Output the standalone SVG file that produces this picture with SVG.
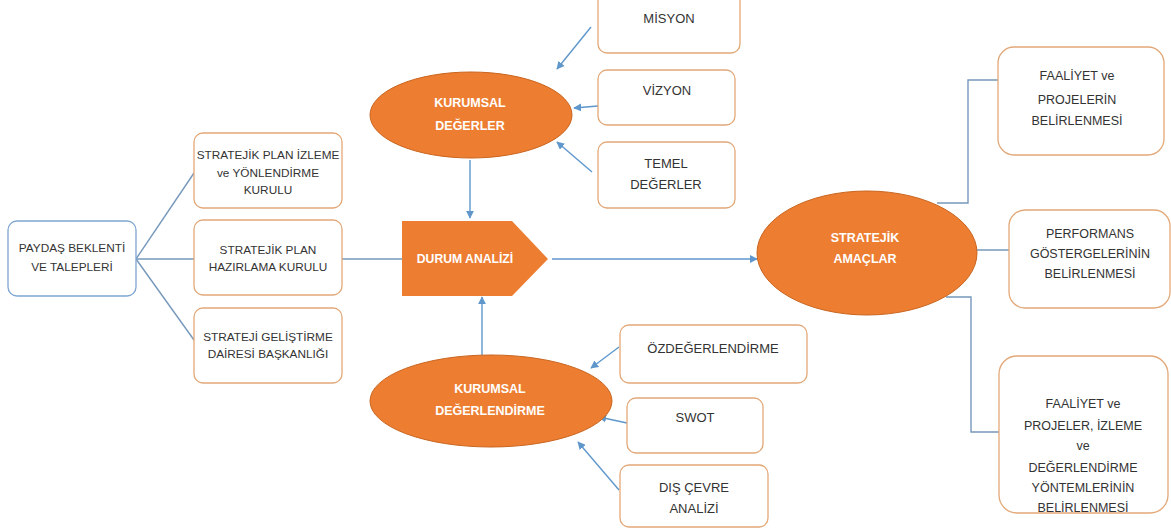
<svg xmlns="http://www.w3.org/2000/svg" width="1171" height="531" viewBox="0 0 1171 531">
  <style>
    .box { fill: #ffffff; stroke: #e2a878; stroke-width: 1.3; }
    .box-blue { fill: #ffffff; stroke: #7ea6cf; stroke-width: 1.3; }
    .oval { fill: #ed7d31; stroke: #c9651f; stroke-width: 1; }
    .shape { fill: #ed7d31; }
    .link { fill: none; stroke: #7698bb; stroke-width: 1.4; }
    .arrow { fill: none; stroke: #5f97cc; stroke-width: 1.4; marker-end: url(#head); }
    .t { font-family: "Liberation Sans", Arial, sans-serif; font-size: 11.8px; fill: #333333; text-anchor: middle; }
    .m { font-size: 13px; }
    .r { font-size: 12.5px; }
    .w { font-family: "Liberation Sans", Arial, sans-serif; font-size: 12.5px; font-weight: bold; fill: #ffffff; text-anchor: middle; }
  </style>
  <defs>
    <marker id="head" viewBox="0 0 10 10" refX="9" refY="5" markerWidth="8" markerHeight="8" markerUnits="userSpaceOnUse" orient="auto">
      <path d="M0,0 L10,5 L0,10 z" fill="#5f97cc"/>
    </marker>
  </defs>
  <rect width="1171" height="531" fill="#ffffff"/>

  <!-- connectors -->
  <g id="connectors">
    <line class="link" x1="136" y1="259" x2="194" y2="173"/>
    <line class="link" x1="136" y1="259" x2="194" y2="259"/>
    <line class="link" x1="136" y1="259" x2="194" y2="340"/>
    <line class="link" x1="342" y1="259" x2="402" y2="259"/>
    <line class="arrow" x1="552" y1="259" x2="757" y2="259"/>
    <line class="arrow" x1="470" y1="160" x2="470" y2="218"/>
    <line class="arrow" x1="482" y1="355" x2="482" y2="297"/>
    <line class="arrow" x1="591" y1="27" x2="557" y2="69"/>
    <line class="arrow" x1="598" y1="106" x2="574" y2="108"/>
    <line class="arrow" x1="592" y1="172" x2="557" y2="142"/>
    <line class="arrow" x1="619" y1="347" x2="591" y2="368"/>
    <line class="arrow" x1="627" y1="423" x2="599" y2="417"/>
    <line class="arrow" x1="619" y1="490" x2="578" y2="442"/>
    <polyline class="link" points="937,203 968,203 968,80 998,80"/>
    <line class="link" x1="973" y1="250" x2="1009" y2="250"/>
    <polyline class="link" points="946,297 971,297 971,432 999,432"/>
  </g>

  <g id="paydas">
    <rect class="box-blue" x="8" y="221" width="128" height="75" rx="9"/>
    <text class="t" x="72" y="252">PAYDAŞ BEKLENTİ</text>
    <text class="t" x="72" y="271">VE TALEPLERİ</text>
  </g>

  <g id="izleme-kurulu">
    <rect class="box" x="194" y="133" width="148" height="75" rx="9"/>
    <text class="t" x="268" y="159">STRATEJİK PLAN İZLEME</text>
    <text class="t" x="268" y="177">ve YÖNLENDİRME</text>
    <text class="t" x="268" y="194">KURULU</text>
  </g>

  <g id="hazirlama-kurulu">
    <rect class="box" x="194" y="220" width="148" height="75" rx="9"/>
    <text class="t" x="268" y="254">STRATEJİK PLAN</text>
    <text class="t" x="268" y="271">HAZIRLAMA KURULU</text>
  </g>

  <g id="sgdb">
    <rect class="box" x="194" y="308" width="148" height="75" rx="9"/>
    <text class="t" x="268" y="341">STRATEJİ GELİŞTİRME</text>
    <text class="t" x="268" y="358">DAİRESİ BAŞKANLIĞI</text>
  </g>

  <g id="durum-analizi">
    <polygon class="shape" points="402,221 512,221 548,259 512,296 402,296"/>
    <text class="w" x="465" y="263" style="font-size:12.2px">DURUM ANALİZİ</text>
  </g>

  <g id="kurumsal-degerler">
    <ellipse class="oval" cx="471" cy="115" rx="101" ry="43"/>
    <text class="w" x="470" y="107">KURUMSAL</text>
    <text class="w" x="470" y="130">DEĞERLER</text>
  </g>

  <g id="misyon">
    <rect class="box" x="598" y="-10" width="142" height="63" rx="9"/>
    <text class="t m" x="669" y="23">MİSYON</text>
  </g>

  <g id="vizyon">
    <rect class="box" x="598" y="70" width="137" height="55" rx="9"/>
    <text class="t m" x="667" y="95">VİZYON</text>
  </g>

  <g id="temel-degerler">
    <rect class="box" x="598" y="142" width="137" height="66" rx="9"/>
    <text class="t m" x="666" y="168">TEMEL</text>
    <text class="t m" x="666" y="189">DEĞERLER</text>
  </g>

  <g id="kurumsal-degerlendirme">
    <ellipse class="oval" cx="491" cy="401" rx="121" ry="46"/>
    <text class="w" x="490" y="393">KURUMSAL</text>
    <text class="w" x="490" y="415">DEĞERLENDİRME</text>
  </g>

  <g id="ozdegerlendirme">
    <rect class="box" x="620" y="325" width="187" height="58" rx="9"/>
    <text class="t m" x="713" y="353">ÖZDEĞERLENDİRME</text>
  </g>

  <g id="swot">
    <rect class="box" x="627" y="398" width="136" height="55" rx="9"/>
    <text class="t m" x="695" y="422">SWOT</text>
  </g>

  <g id="dis-cevre">
    <rect class="box" x="620" y="465" width="148" height="62" rx="9"/>
    <text class="t m" x="694" y="492">DIŞ ÇEVRE</text>
    <text class="t m" x="694" y="513">ANALİZİ</text>
  </g>

  <g id="stratejik-amaclar">
    <ellipse class="oval" cx="867" cy="253" rx="110" ry="62"/>
    <text class="w" x="865" y="242">STRATEJİK</text>
    <text class="w" x="865" y="263">AMAÇLAR</text>
  </g>

  <g id="faaliyet-projeler">
    <rect class="box" x="998" y="47" width="166" height="108" rx="16"/>
    <text class="t r" x="1077" y="80">FAALİYET ve</text>
    <text class="t r" x="1077" y="104">PROJELERİN</text>
    <text class="t r" x="1077" y="125">BELİRLENMESİ</text>
  </g>

  <g id="performans">
    <rect class="box" x="1009" y="210" width="161" height="98" rx="16"/>
    <text class="t r" x="1090" y="238">PERFORMANS</text>
    <text class="t r" x="1090" y="258">GÖSTERGELERİNİN</text>
    <text class="t r" x="1090" y="278">BELİRLENMESİ</text>
  </g>

  <g id="izleme-yontemleri">
    <rect class="box" x="999" y="356" width="169" height="157" rx="18"/>
    <text class="t r" x="1083" y="408">FAALİYET ve</text>
    <text class="t r" x="1083" y="430">PROJELER, İZLEME</text>
    <text class="t r" x="1083" y="450">ve</text>
    <text class="t r" x="1083" y="472">DEĞERLENDİRME</text>
    <text class="t r" x="1083" y="492">YÖNTEMLERİNİN</text>
    <text class="t r" x="1083" y="512">BELİRLENMESİ</text>
  </g>
</svg>
